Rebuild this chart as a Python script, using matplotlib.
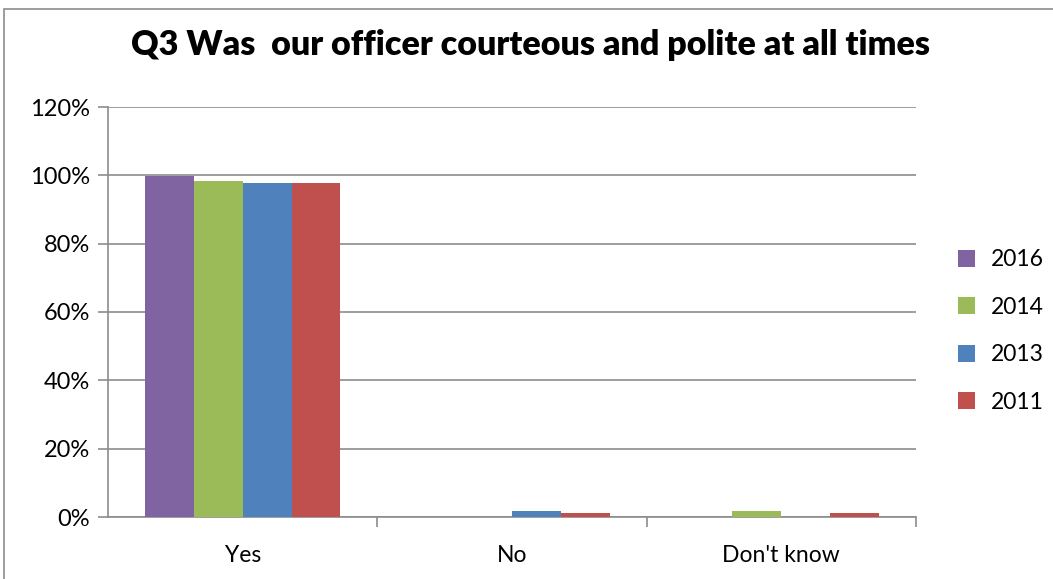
import numpy as np
import matplotlib.pyplot as plt
from matplotlib.patches import Rectangle
from matplotlib.ticker import PercentFormatter

categories = ["Yes", "No", "Don't know"]
years = ["2016", "2014", "2013", "2011"]
values = {
    "2016": [99.8, 0.0, 0.0],
    "2014": [98.3, 0.0, 1.7],
    "2013": [97.7, 1.7, 0.0],
    "2011": [97.7, 1.1, 1.1],
}
colors = ["#8064A2", "#9BBB59", "#4F81BD", "#C0504D"]

plt.rcParams['font.family'] = ['Lato', 'DejaVu Sans']

fig = plt.figure(figsize=(10.53, 5.79), dpi=100)
ax = fig.add_axes([108 / 1053, 1 - 517 / 579, (916 - 108) / 1053, (517 - 107) / 579])

# outer chart border
fig.patches.append(Rectangle((4 / 1053, -0.01), 1.1, 1 - 9 / 579 + 0.01, transform=fig.transFigure,
                             fill=False, edgecolor="#8c8c8c", linewidth=1.2))

x = np.arange(len(categories))
n = len(years)
bar_w = 0.726 / n
for i, (yr, c) in enumerate(zip(years, colors)):
    offs = (i - (n - 1) / 2) * bar_w
    ax.bar(x + offs, values[yr], width=bar_w, color=c, label=yr, zorder=3)

ax.set_xlim(-0.5, 2.5)
ax.set_ylim(0, 120)
ax.set_yticks(np.arange(0, 121, 20))
ax.yaxis.set_major_formatter(PercentFormatter(decimals=0))
ax.yaxis.grid(True, color="#8c8c8c", linewidth=1.2, zorder=0)
ax.set_axisbelow(True)

ax.set_xticks(x)
ax.set_xticklabels(categories)
ax.set_xticks([0.5, 1.5, 2.5], minor=True)
ax.tick_params(axis="x", which="major", length=0, pad=20, labelsize=16.5)
ax.tick_params(axis="x", which="minor", length=7, width=1.2, color="#8c8c8c")
ax.tick_params(axis="y", length=7, width=1.2, color="#8c8c8c", labelsize=17, pad=6)

for s in ["top", "right"]:
    ax.spines[s].set_visible(False)
for s in ["left", "bottom"]:
    ax.spines[s].set_color("#8c8c8c")
    ax.spines[s].set_linewidth(1.2)

fig.text(0.504, 1 - 45 / 579, "Q3 Was  our officer courteous and polite at all times",
         ha="center", va="center", fontsize=24.5, fontweight="heavy")

ax.legend(loc="center left", bbox_to_anchor=(937 / 1053, 1 - 331 / 579), bbox_transform=fig.transFigure,
          frameon=False, fontsize=16.5, handlelength=0.75, handleheight=0.75, labelspacing=1.15, handletextpad=0.7)

fig.savefig("out.png", dpi=100)
